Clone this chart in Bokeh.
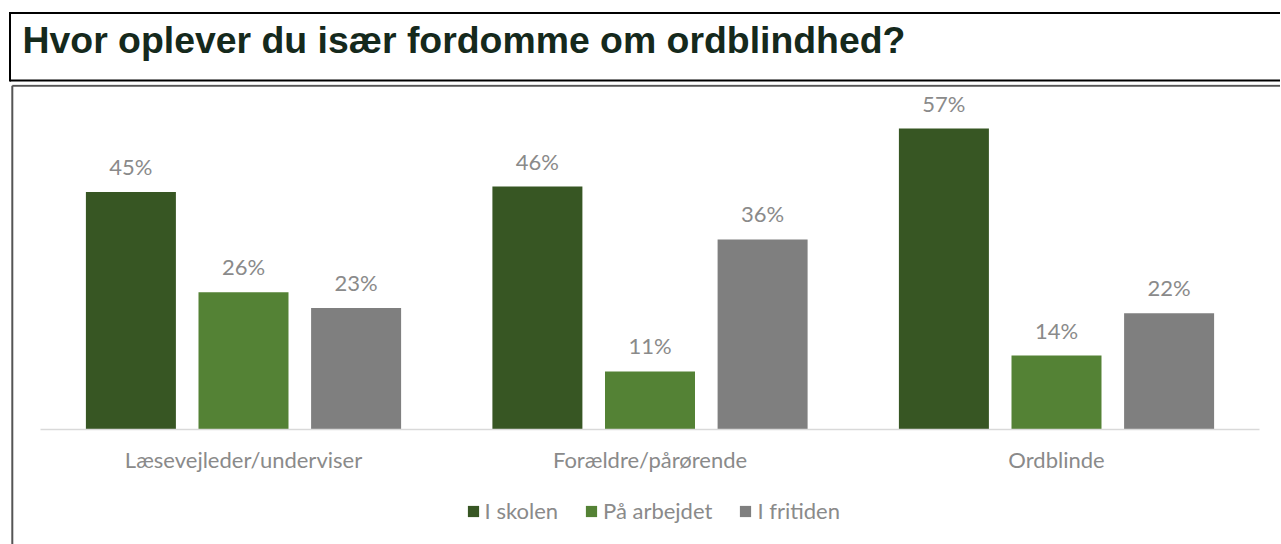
from bokeh.plotting import figure
from bokeh.layouts import column
from bokeh.models import (ColumnDataSource, Range1d, LinearAxis, FixedTicker,
                          LabelSet, Legend, LegendItem)
from bokeh.transform import dodge
from bokeh.core.properties import value
from bokeh.embed import file_html
from bokeh.resources import INLINE

TITLE = "Hvor oplever du især fordomme om ordblindhed?"
categories = ["Læsevejleder/underviser", "Forældre/pårørende", "Ordblinde"]
series = ["I skolen", "På arbejdet", "I fritiden"]
i_skolen = [45, 46, 57]
paa_arbejdet = [26, 11, 14]
i_fritiden = [23, 36, 22]
colors = ["#375623", "#548235", "#7f7f7f"]

W = 1281
HA = 84
HB = 460
FONT = "Lato"
FS = "22px"
GRAY_TXT = "#8a8a8a"

# ---------- title figure (pixel coordinates, y measured from the bottom) ----------
pa = figure(width=W, height=HA, output_backend="svg", toolbar_location=None,
            x_range=Range1d(0, W), y_range=Range1d(0, HA),
            x_axis_type=None, y_axis_type=None, min_border=0,
            min_border_left=0, min_border_right=0, min_border_top=0, min_border_bottom=0)
pa.grid.visible = False
pa.outline_line_color = None
top_y = HA - 12.5
bot_y = HA - 80.0
pa.segment(x0=[9.5, 9.5, 9.5], y0=[top_y, bot_y, top_y + 1], x1=[W - 1.5, W - 1.5, 9.5],
           y1=[top_y, bot_y, bot_y - 1], line_color="black", line_width=2)
pa.text(x=[22], y=[HA - 39], text=[TITLE], text_font=value("Liberation Sans"),
        text_font_style="bold", text_font_size="37.4px", text_color="#15291c",
        text_baseline="alphabetic", text_align="left")

# ---------- chart figure ----------
PX_PER_CAT = 406.5
x0 = 0.5 - 243.0 / PX_PER_CAT
x1 = x0 + W / PX_PER_CAT
PX_PER_PCT = 5.28
base = 345.0
y1 = base / PX_PER_PCT
y0 = -(HB - base) / PX_PER_PCT

pb = figure(width=W, height=HB, output_backend="svg", toolbar_location=None,
            x_range=Range1d(x0, x1), y_range=Range1d(y0, y1),
            x_axis_type=None, y_axis_type=None, min_border=0,
            min_border_left=0, min_border_right=0, min_border_top=0, min_border_bottom=0)
pb.grid.visible = False
pb.outline_line_color = None
pb.extra_x_ranges = {"px": Range1d(0, W)}
pb.extra_y_ranges = {"py": Range1d(HB, 0)}

# chart box border (left + top)
pb.segment(x0=[11.8, 11.8], y0=[1.3, 1.3], x1=[11.8, W - 1.5], y1=[HB - 0.5, 1.3],
           line_color="#555555", line_width=2, x_range_name="px", y_range_name="py")

xpos = [i + 0.5 for i in range(len(categories))]
offsets = [-0.277, 0.0, 0.277]
bar_w = 0.2214
renderers = []
for vals, off, col in zip([i_skolen, paa_arbejdet, i_fritiden], offsets, colors):
    src = ColumnDataSource(dict(x=xpos, val=vals, lbl=[f"{v}%" for v in vals]))
    r = pb.vbar(x=dodge("x", off), top="val", width=bar_w, bottom=0,
                source=src, fill_color=col, line_color=None)
    renderers.append(r)
    pb.add_layout(LabelSet(x=dodge("x", off), y="val", text="lbl", source=src,
                           y_offset=17, text_align="center", text_baseline="alphabetic",
                           text_font=value(FONT), text_font_size=FS,
                           text_color=GRAY_TXT))

xaxis = LinearAxis(ticker=FixedTicker(ticks=xpos),
                   major_label_overrides={p: c for p, c in zip(xpos, categories)},
                   fixed_location=0, bounds=(0, 3))
xaxis.axis_line_color = "#d9d9d9"
xaxis.axis_line_width = 1.5
xaxis.major_tick_line_color = None
xaxis.minor_tick_line_color = None
xaxis.major_tick_in = 0
xaxis.major_tick_out = 0
xaxis.major_label_standoff = 16
xaxis.major_label_text_font = FONT
xaxis.major_label_text_font_size = FS
xaxis.major_label_text_color = GRAY_TXT
pb.add_layout(xaxis, "below")

legend = Legend(items=[LegendItem(label=s, renderers=[r]) for s, r in zip(series, renderers)],
                orientation="horizontal", location=(465.6, 20),
                glyph_width=14, glyph_height=14, label_height=14,
                label_standoff=5, spacing=26, padding=0, margin=0,
                border_line_color=None, background_fill_alpha=0,
                label_text_font=FONT, label_text_font_size=FS,
                label_text_color=GRAY_TXT)
pb.add_layout(legend)

layout = column(pa, pb, spacing=0)
open("out.html", "w").write(file_html(layout, INLINE))
